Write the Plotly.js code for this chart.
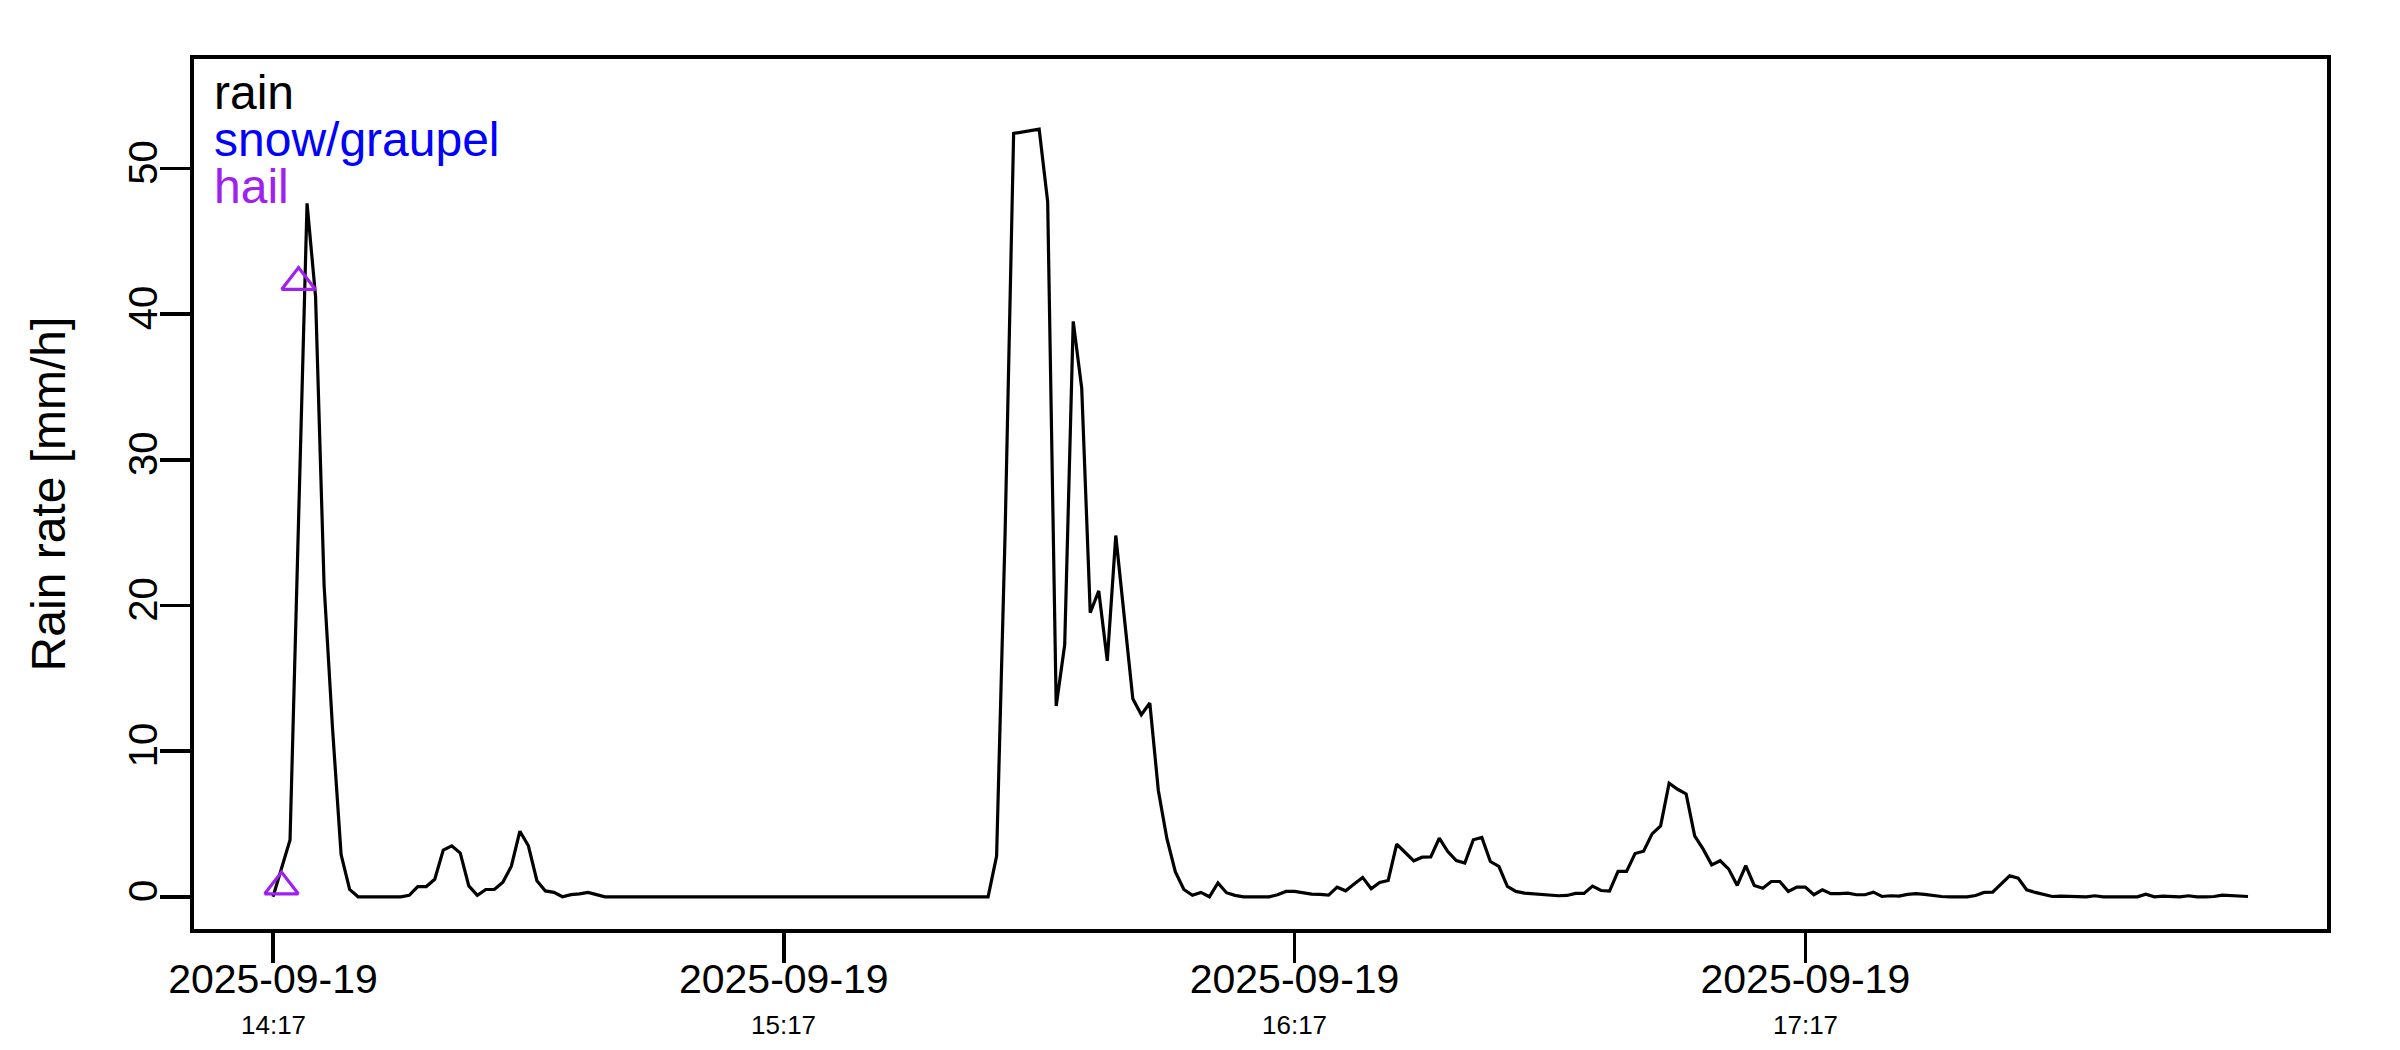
<!DOCTYPE html>
<html>
<head>
<meta charset="utf-8">
<script src="https://cdn.plot.ly/plotly-3.0.1.min.js"></script>
<style>
  html, body { margin: 0; padding: 0; background: #ffffff; }
  #chart { width: 2400px; height: 1050px; }
</style>
</head>
<body>
<div id="chart"></div>
<script>
// ---- data (1-minute rain rate, starting 2025-09-19 14:17) ----
const startDay = "2025-09-19";
const startHour = 14;
const startMinute = 17;

const rainRate = [
  0, 1.9, 3.9, 25.8, 47.6, 41.2, 21.4, 11.5, 2.9, 0.5,
  0, 0, 0, 0, 0, 0, 0.1, 0.7, 0.7, 1.2,
  3.2, 3.5, 3.0, 0.75, 0.1, 0.5, 0.5, 1.0, 2.1, 4.5,
  3.5, 1.1, 0.4, 0.3, 0, 0.15, 0.2, 0.3, 0.15, 0,
  0, 0, 0, 0, 0, 0, 0, 0, 0, 0,
  0, 0, 0, 0, 0, 0, 0, 0, 0, 0,
  0, 0, 0, 0, 0, 0, 0, 0, 0, 0,
  0, 0, 0, 0, 0, 0, 0, 0, 0, 0,
  0, 0, 0, 0, 0, 2.8, 25, 52.4, 52.5, 52.6,
  52.7, 47.7, 13.1, 17.3, 39.5, 34.9, 19.5, 21.0, 16.2, 24.8,
  19.0, 13.6, 12.5, 13.3, 7.3, 4.0, 1.7, 0.5, 0.1, 0.3,
  0, 0.95, 0.28, 0.1, 0, 0, 0, 0, 0.14, 0.37,
  0.37, 0.27, 0.18, 0.16, 0.11, 0.66, 0.41, 0.87, 1.33, 0.55,
  0.98, 1.12, 3.61, 3.04, 2.47, 2.72, 2.74, 4.02, 3.1, 2.49,
  2.31, 3.91, 4.07, 2.42, 2.08, 0.71, 0.37, 0.25, 0.21, 0.18,
  0.14, 0.07, 0.09, 0.23, 0.23, 0.73, 0.43, 0.39, 1.74, 1.74,
  2.97, 3.13, 4.32, 4.87, 7.8, 7.38, 7.06, 4.18, 3.27, 2.19,
  2.47, 1.9, 0.78, 2.13, 0.78, 0.59, 1.05, 1.05, 0.37, 0.66,
  0.66, 0.14, 0.48, 0.21, 0.21, 0.25, 0.14, 0.14, 0.32, 0.02,
  0.07, 0.05, 0.16, 0.21, 0.16, 0.07, 0.02, 0, 0, 0,
  0.09, 0.3, 0.31, 0.89, 1.44, 1.28, 0.48, 0.3, 0.16, 0.02,
  0.05, 0.05, 0, 0, 0.07, 0, 0, 0, 0, 0,
  0.18, 0, 0.05, 0, 0, 0.07, 0, 0, 0.02, 0.11,
  0.09, 0.02, 0.02
];

const hailTimes = ["2025-09-19 14:18:00", "2025-09-19 14:20:00"];
const hailRate  = [0.7, 42.2];

const tickTimes = ["2025-09-19 14:17:00", "2025-09-19 15:17:00", "2025-09-19 16:17:00", "2025-09-19 17:17:00"];
const tickDates = ["2025-09-19", "2025-09-19", "2025-09-19", "2025-09-19"];
const tickClock = ["14:17", "15:17", "16:17", "17:17"];

const yTicks = [0, 10, 20, 30, 40, 50];
const legendLabels = ["rain", "snow/graupel", "hail"];
const legendColors = ["#000000", "#0000FF", "#A020F0"];

// ---- build time stamps for the 1-minute series ----
function pad(n) { return (n < 10 ? "0" : "") + n; }
const rainTimes = rainRate.map(function (_, i) {
  const total = startHour * 60 + startMinute + i;
  return startDay + " " + pad(Math.floor(total / 60)) + ":" + pad(total % 60) + ":00";
});

// axis range: data span extended by 4% on each side (as in base R)
const t0 = Date.parse(rainTimes[0].replace(" ", "T") + "Z");
const t1 = Date.parse(rainTimes[rainTimes.length - 1].replace(" ", "T") + "Z");
const ext = (t1 - t0) * 0.04;
function fmt(ms) {
  const d = new Date(ms);
  return d.toISOString().replace("T", " ").replace("Z", "");
}
const xRange = [fmt(t0 - ext), fmt(t1 + ext)];
const yMaxLim = 55.3;
const yRange = [-0.04 * yMaxLim, 1.04 * yMaxLim];

const FONT = "Liberation Sans, Arial, Helvetica, sans-serif";

const traces = [
  {
    x: rainTimes, y: rainRate, type: "scatter", mode: "lines",
    line: { color: "#000000", width: 3.2 },
    name: "rain", showlegend: false, hoverinfo: "skip"
  },
  {
    x: hailTimes, y: hailRate, type: "scatter", mode: "markers",
    marker: { symbol: "triangle-up-open", size: 29, color: "#A020F0", line: { width: 3.2, color: "#A020F0" } },
    name: "hail", showlegend: false, hoverinfo: "skip"
  }
];

const annotations = [];
tickTimes.forEach(function (t, i) {
  annotations.push({
    x: t, xref: "x", y: 0, yref: "paper", yanchor: "middle", xanchor: "center",
    yshift: -96, text: tickClock[i], showarrow: false,
    font: { family: FONT, size: 26, color: "#000000" }
  });
});
const legendShifts = [-33.5, -80, -127.5];
legendLabels.forEach(function (lab, i) {
  annotations.push({
    x: 0, xref: "paper", y: 1, yref: "paper", xanchor: "left", yanchor: "middle",
    xshift: 19, yshift: legendShifts[i], text: lab, showarrow: false, borderpad: 0,
    font: { family: FONT, size: 48, color: legendColors[i] }
  });
});

const layout = {
  width: 2400, height: 1050,
  margin: { l: 194, r: 73, t: 59, b: 121, pad: 0 },
  paper_bgcolor: "#ffffff", plot_bgcolor: "#ffffff",
  font: { family: FONT, color: "#000000" },
  showlegend: false,
  xaxis: {
    type: "date", range: xRange, autorange: false,
    tickmode: "array", tickvals: tickTimes, ticktext: tickDates,
    ticks: "outside", ticklen: 30, tickwidth: 3.5, tickcolor: "#000000",
    showline: true, linewidth: 4, linecolor: "#000000", mirror: true,
    showgrid: false, zeroline: false,
    tickfont: { family: FONT, size: 41, color: "#000000" },
    ticklabelstandoff: -19
  },
  yaxis: {
    range: yRange, autorange: false,
    tickmode: "array", tickvals: yTicks, ticktext: yTicks.map(String),
    tickangle: -90,
    ticks: "outside", ticklen: 30, tickwidth: 3.5, tickcolor: "#000000",
    showline: true, linewidth: 4, linecolor: "#000000", mirror: true,
    showgrid: false, zeroline: false,
    tickfont: { family: FONT, size: 40, color: "#000000" },
    ticklabelstandoff: -13,
    title: { text: "Rain rate [mm/h]", font: { family: FONT, size: 48, color: "#000000" }, standoff: 41 }
  },
  annotations: annotations
};

Plotly.newPlot("chart", traces, layout, { staticPlot: true, displayModeBar: false });
</script>
</body>
</html>
